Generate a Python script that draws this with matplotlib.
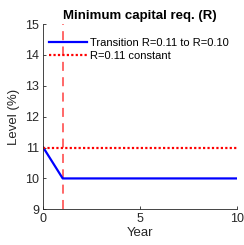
import numpy as np
import matplotlib
matplotlib.use('Agg')
import matplotlib.pyplot as plt

plt.rcParams['font.family'] = ['Liberation Sans', 'DejaVu Sans']

# data
years = [0, 1, 2, 3, 4, 5, 6, 7, 8, 9, 10]
transition = [11, 10, 10, 10, 10, 10, 10, 10, 10, 10, 10]
constant = [11, 11, 11, 11, 11, 11, 11, 11, 11, 11, 11]
vline_year = 1

fig = plt.figure(figsize=(2.44, 2.45), dpi=100)
ax = fig.add_axes([0.1775, 0.1457, 0.795, 0.756])

ax.axvline(vline_year, color='#ff3333', lw=1.3, ls=(0, (5, 3.5)), alpha=0.8)
ax.plot(years, transition, color='#0000ff', lw=1.6, label='Transition R=0.11 to R=0.10')
ax.plot(years, constant, color='#ff0000', lw=1.6, ls=(0, (1, 1)), label='R=0.11 constant')

ax.set_xlim(0, 10)
ax.set_ylim(9, 15)
ax.set_xticks([0, 5, 10])
ax.set_yticks([9, 10, 11, 12, 13, 14, 15])
for s in ['top', 'right']:
    ax.spines[s].set_visible(False)
for s in ['left', 'bottom']:
    ax.spines[s].set_color('#262626')
    ax.spines[s].set_linewidth(0.6)
ax.tick_params(direction='in', length=2.5, width=0.6, labelsize=9,
               colors='#262626', pad=3)
ax.set_xlabel('Year', fontsize=9.5, color='#262626', labelpad=1)
ax.set_ylabel('Level (%)', fontsize=9.5, color='#262626', labelpad=4)
ax.set_title('Minimum capital req. (R)', fontsize=9.5, fontweight='bold', pad=4)

ax.legend(loc='upper left', bbox_to_anchor=(0.0, 0.955), frameon=False,
          fontsize=8, handlelength=3.4, handletextpad=0.27, labelspacing=0.3,
          borderaxespad=0.1)

fig.savefig('out.png', dpi=100)
